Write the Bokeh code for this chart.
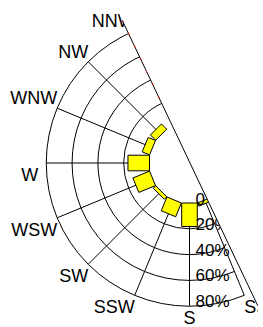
import math
from bokeh.plotting import figure
from bokeh.models import Range1d, ColumnDataSource, PolyAnnotation, Arrow
from bokeh.core.properties import value
from bokeh.embed import file_html
from bokeh.resources import INLINE

# ---- data ----
directions = ["SSE", "S", "SSW", "SW", "WSW", "W", "WNW", "NW", "NNW"]
bearings = [157.5, 180.0, 202.5, 225.0, 247.5, 270.0, 292.5, 315.0, 337.5]
frequency = [2.7, 18.2, 11.6, 2.7, 14.0, 16.7, 6.2, 5.8, 0.0]   # percent
ring_values = [0, 20, 40, 60, 80]
ring_labels = ["0", "20%", "40%", "60%", "80%"]

# ---- geometry / style ----
W, H = 263, 327
CX, CY = 189.0, H - 162.5      # centre in data units (1 unit = 1 px, y up)
HOLE = 40.0
PX_PER_PCT = 1.29
BAR_W = 2 * HOLE * math.sin(math.radians(11.25))
R_OUT = HOLE + PX_PER_PCT * ring_values[-1]
CLIP_ANGLE = 25.4
FONT = value("Liberation Sans")


def rad(v):
    return HOLE + PX_PER_PCT * v


def polar(r, b):
    t = math.radians(b)
    return CX + r * math.sin(t), CY + r * math.cos(t)


p = figure(width=W, height=H, output_backend="svg", toolbar_location=None,
           x_range=Range1d(0, W), y_range=Range1d(0, H),
           min_border=0, outline_line_color=None)
p.axis.visible = False
p.grid.visible = False
p.background_fill_color = "white"
p.border_fill_color = "white"

# rings (half disk from SSE clockwise to NNW)
start = math.radians(90 - bearings[-1])
end = math.radians(90 - bearings[0])
p.arc(x=[CX] * 4, y=[CY] * 4, radius=[rad(v) for v in ring_values[1:]],
      start_angle=start, end_angle=end, direction="anticlock",
      line_color="black", line_width=1)

# spokes
sx0, sy0, sx1, sy1 = [], [], [], []
for b in bearings:
    a = polar(HOLE, b)
    c = polar(R_OUT, b)
    sx0.append(a[0]); sy0.append(a[1]); sx1.append(c[0]); sy1.append(c[1])
p.segment(x0=sx0, y0=sy0, x1=sx1, y1=sy1, line_color="black", line_width=1)

# bars
bx, by, bl, ba = [], [], [], []
for b, f in zip(bearings, frequency):
    if f <= 0:
        continue
    L = PX_PER_PCT * f
    x, y = polar(HOLE + L / 2, b)
    bx.append(x); by.append(y); bl.append(L); ba.append(math.radians(90 - b))
p.rect(x=bx, y=by, width=bl, height=[BAR_W] * len(bx), angle=ba,
       fill_color="#FFFF00", line_color="black", line_width=1)

# radial labels
p.text(x=[CX + 6] * len(ring_values),
       y=[CY - rad(v) + 4.5 for v in ring_values],
       text=ring_labels, text_font=FONT, text_font_size="17px",
       text_align="left", text_baseline="alphabetic", text_color="black")

# direction labels
lx, ly, lt, lal = [], [], [], []
for d, b in zip(directions, bearings):
    x, y = polar(R_OUT, b)
    s = math.sin(math.radians(b))
    c = math.cos(math.radians(b))
    if abs(s) < 1e-6:
        al = "center"
    elif s < 0:
        al = "right"
    else:
        al = "left"
    if abs(c) < 1e-6:
        x -= 8
    y = y - 12 if c < 1e-6 else y + 10
    lx.append(x); ly.append(y); lt.append(d); lal.append(al)
src = ColumnDataSource(dict(x=lx, y=ly, t=lt, al=lal))
p.text(x="x", y="y", text="t", text_align="al", source=src, text_font=FONT,
       text_font_size="18px", text_baseline="middle", text_color="black")

# clip everything on the right of the diameter (drawn at annotation level)
ca = math.radians(CLIP_ANGLE)
ux, uy = math.sin(ca), -math.cos(ca)     # down-right along the edge
LCX = CX + 0.5
EDGE = 158
BIG = 500
top_far = (LCX - BIG * ux, CY - BIG * uy)
top_end = (LCX - EDGE * ux, CY - EDGE * uy)
bot_end = (LCX + EDGE * ux, CY + EDGE * uy)
p.add_layout(PolyAnnotation(
    xs=[top_far[0], bot_end[0], bot_end[0] - 1.5, W + 100, W + 100],
    ys=[top_far[1], bot_end[1], -50, -50, top_far[1]],
    fill_color="white", fill_alpha=1.0, line_color=None))
p.add_layout(Arrow(end=None, x_start=top_end[0], y_start=top_end[1],
                   x_end=bot_end[0], y_end=bot_end[1],
                   line_color="black", line_width=1))
p.add_layout(Arrow(end=None, x_start=top_end[0], y_start=top_end[1],
                   x_end=LCX - 62 * ux, y_end=CY - 62 * uy,
                   line_color="red", line_width=1, line_dash="2 12"))

open("out.html", "w").write(file_html(p, INLINE))
